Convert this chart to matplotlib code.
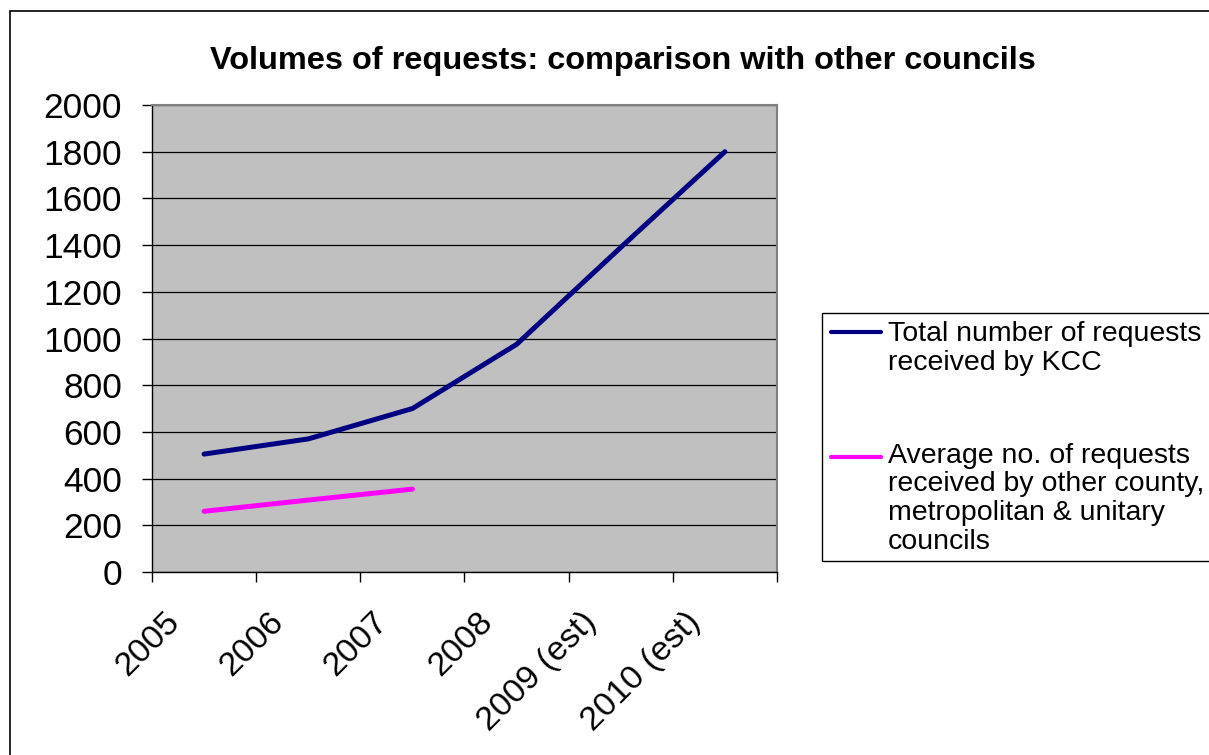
import matplotlib
matplotlib.use("Agg")
import matplotlib.pyplot as plt
from matplotlib.patches import Rectangle
from matplotlib.lines import Line2D
import matplotlib.transforms as mtransforms
import numpy as np

categories = ["2005", "2006", "2007", "2008", "2009 (est)", "2010 (est)"]
kcc = [505, 570, 700, 975, 1390, 1800]
others = [260, 308, 355]
series_names = ["Total number of requests\nreceived by KCC",
                "Average no. of requests\nreceived by other county,\nmetropolitan & unitary\ncouncils"]
series_colors = ['#000080', '#FF00FF']
yticks = [0, 200, 400, 600, 800, 1000, 1200, 1400, 1600, 1800, 2000]

plt.rcParams['font.family'] = ['Liberation Sans', 'DejaVu Sans']

W, H = 1209, 755
fig = plt.figure(figsize=(W/100, H/100), dpi=100)
fig.patch.set_facecolor('white')

def fx(px):
    return px / W

def fy(py):
    return 1 - py / H

# outer chart border (extends past the right and bottom edges)
fig.patches.append(Rectangle((fx(9.5), -0.05), 1.2, fy(11) + 0.05, transform=fig.transFigure,
                             fill=False, edgecolor='black', linewidth=1.2))

left, right, top, bottom = 152, 777, 105, 572
ax = fig.add_axes([fx(left), fy(bottom), fx(right - left), (bottom - top) / H])
ax.set_facecolor('#C0C0C0')

x = np.arange(len(categories))
l1, = ax.plot(x, kcc, color=series_colors[0], linewidth=3.6, solid_capstyle='round', zorder=3)
l2, = ax.plot(x[:len(others)], others, color=series_colors[1], linewidth=3.6,
              solid_capstyle='round', zorder=3)

ax.set_xlim(-0.5, len(categories) - 0.5)
ax.set_ylim(0, 2000)
ax.set_yticks(yticks)
ax.set_yticklabels([str(v) for v in yticks], fontsize=25.5)
ax.yaxis.grid(True, color='black', linewidth=0.9)
ax.set_axisbelow(True)

ax.set_xticks(np.arange(-0.5, len(categories)), minor=False)
ax.set_xticklabels([''] * (len(categories) + 1))
ax.set_xticks(x, minor=True)
ax.set_xticklabels(categories, minor=True, fontsize=24.5, rotation=45,
                   ha='right', va='top', rotation_mode='anchor')
ax.tick_params(axis='x', which='minor', length=0, pad=0)
ax.tick_params(axis='x', which='major', length=7.5, direction='out', width=1)
ax.tick_params(axis='y', length=7.5, direction='out', width=1, pad=14)
offset = mtransforms.ScaledTranslation(-40 / 100, -34 / 100, fig.dpi_scale_trans)
for lab in ax.get_xticklabels(minor=True):
    lab.set_transform(lab.get_transform() + offset)

for s in ['top', 'right']:
    ax.spines[s].set_color('#808080')
    ax.spines[s].set_linewidth(1.5)
for s in ['left', 'bottom']:
    ax.spines[s].set_color('black')
    ax.spines[s].set_linewidth(1)

fig.text(fx((205 + 1040) / 2), fy(69), "Volumes of requests: comparison with other councils",
         ha='center', va='baseline', fontsize=23.4, fontweight='bold')

# legend (drawn in figure coordinates, matching the reference layout)
fig.patches.append(Rectangle((fx(822), fy(561)), 1.0, (561 - 313) / H, transform=fig.transFigure,
                             fill=False, edgecolor='black', linewidth=1))
last_baselines = [370, 549]
handle_y = [332, 457]
for name, col, base, hy in zip(series_names, series_colors, last_baselines, handle_y):
    fig.lines.append(Line2D([fx(831), fx(881)], [fy(hy), fy(hy)], transform=fig.transFigure,
                            color=col, linewidth=3, solid_capstyle='round'))
    fig.text(fx(888), fy(base), name, ha='left', va='baseline', fontsize=20.5,
             linespacing=1.14)

fig.savefig("out.png", dpi=100)
